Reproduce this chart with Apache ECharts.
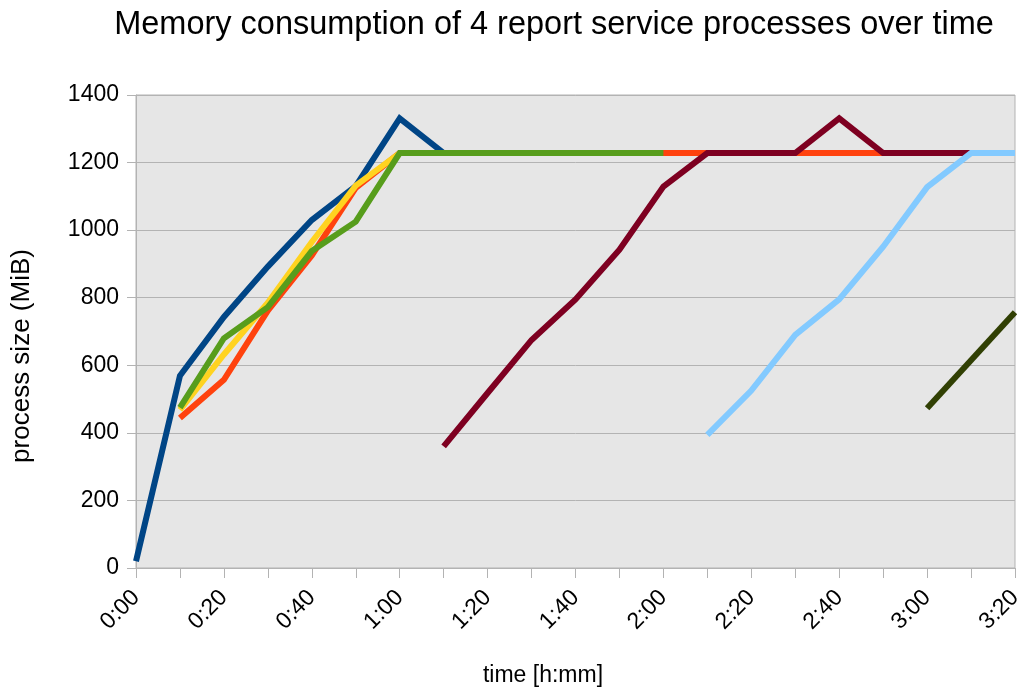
<!DOCTYPE html>
<html>
<head>
<meta charset="utf-8">
<title>Memory consumption of 4 report service processes over time</title>
<script src="https://cdn.jsdelivr.net/npm/echarts@6/dist/echarts.min.js"></script>
<style>
  html, body { margin: 0; padding: 0; background: #ffffff; }
  #chart { width: 1019px; height: 691px; }
</style>
</head>
<body>
<div id="chart"></div>
<script>
// Sample times, one every 10 minutes
const times = ['0:00', '0:10', '0:20', '0:30', '0:40', '0:50', '1:00', '1:10', '1:20', '1:30', '1:40',
               '1:50', '2:00', '2:10', '2:20', '2:30', '2:40', '2:50', '3:00', '3:10', '3:20'];

// Process sizes in MiB (null = process not running)
const proc1 = [20, 569, 743, 892, 1030, 1130, 1331, 1228, 1228, 1228, 1228, 1228, 1228, 1228, 1228, 1228, 1228, 1228, 1228, 1228, 1228];
const proc2 = [null, 444, 557, 762, 925, 1125, 1228, 1228, 1228, 1228, 1228, 1228, 1228, 1228, 1228, 1228, 1228, 1228, null, null, null];
const proc3 = [null, 468, 632, 785, 965, 1132, 1228, null, null, null, null, null, null, null, null, null, null, null, null, null, null];
const proc4 = [null, 475, 680, 772, 938, 1025, 1228, 1228, 1228, 1228, 1228, 1228, 1228, null, null, null, null, null, null, null, null];
const proc5 = [null, null, null, null, null, null, null, 360, 518, 675, 795, 942, 1129, 1228, 1228, 1228, 1331, 1228, 1228, 1228, 1228];
const proc6 = [null, null, null, null, null, null, null, null, null, null, null, null, null, 394, 525, 690, 795, 951, 1127, 1228, 1228];
const proc7 = [null, null, null, null, null, null, null, null, null, null, null, null, null, null, null, null, null, null, 473, 615, 757];

const yTicks = { min: 0, max: 1400, step: 200 };

const seriesList = [
  { name: 'Process 1', data: proc1, color: '#004586' },
  { name: 'Process 2', data: proc2, color: '#ff420e' },
  { name: 'Process 3', data: proc3, color: '#ffd320' },
  { name: 'Process 4', data: proc4, color: '#579d1c' },
  { name: 'Process 5', data: proc5, color: '#7e0021' },
  { name: 'Process 6', data: proc6, color: '#83caff' },
  { name: 'Process 7', data: proc7, color: '#314004' }
];

const font = '"Liberation Sans", Arial, sans-serif';
const textColor = '#000000';
const chart = echarts.init(document.getElementById('chart'), null, { renderer: 'canvas' });

chart.setOption({
  animation: false,
  backgroundColor: '#ffffff',
  title: {
    text: 'Memory consumption of 4 report service processes over time',
    left: 549,
    top: 4,
    textAlign: 'center',
    textStyle: { fontFamily: font, fontSize: 32.5, fontWeight: 'normal', color: textColor }
  },
  grid: {
    left: 136, right: 4, top: 95, bottom: 123,
    outerBoundsMode: 'none',
    containLabel: false,
    show: true,
    backgroundColor: '#e6e6e6',
    borderColor: '#b3b3b3',
    borderWidth: 1
  },
  xAxis: {
    type: 'category',
    data: times,
    boundaryGap: false,
    name: 'time [h:mm]',
    nameLocation: 'middle',
    nameGap: 96,
    nameTextStyle: { fontFamily: font, fontSize: 23, color: textColor, padding: [0, 65, 0, 0] },
    axisLine: { lineStyle: { color: '#b3b3b3', width: 1 } },
    axisTick: { show: true, interval: 0, length: 10, lineStyle: { color: '#b3b3b3' } },
    axisLabel: {
      interval: 1,
      rotate: 45,
      margin: 26,
      fontFamily: font,
      fontSize: 23,
      color: textColor
    },
    splitLine: { show: false }
  },
  yAxis: {
    type: 'value',
    min: yTicks.min,
    max: yTicks.max,
    interval: yTicks.step,
    name: 'process size (MiB)',
    nameLocation: 'middle',
    nameGap: 101,
    nameTextStyle: { fontFamily: font, fontSize: 26, color: textColor, padding: [0, 49, 0, 0] },
    axisLine: { show: true, lineStyle: { color: '#b3b3b3', width: 1 } },
    axisTick: { show: true, length: 9, lineStyle: { color: '#b3b3b3' } },
    axisLabel: {
      margin: 17,
      fontFamily: font,
      fontSize: 23,
      color: textColor,
      formatter: v => String(v)
    },
    splitLine: { show: true, lineStyle: { color: '#b3b3b3', width: 1 } }
  },
  series: seriesList.map(s => ({
    name: s.name,
    type: 'line',
    data: s.data,
    showSymbol: false,
    symbol: 'none',
    connectNulls: false,
    color: s.color,
    lineStyle: { color: s.color, width: 6, cap: 'butt', join: 'miter' },
    emphasis: { disabled: true }
  }))
});
</script>
</body>
</html>
